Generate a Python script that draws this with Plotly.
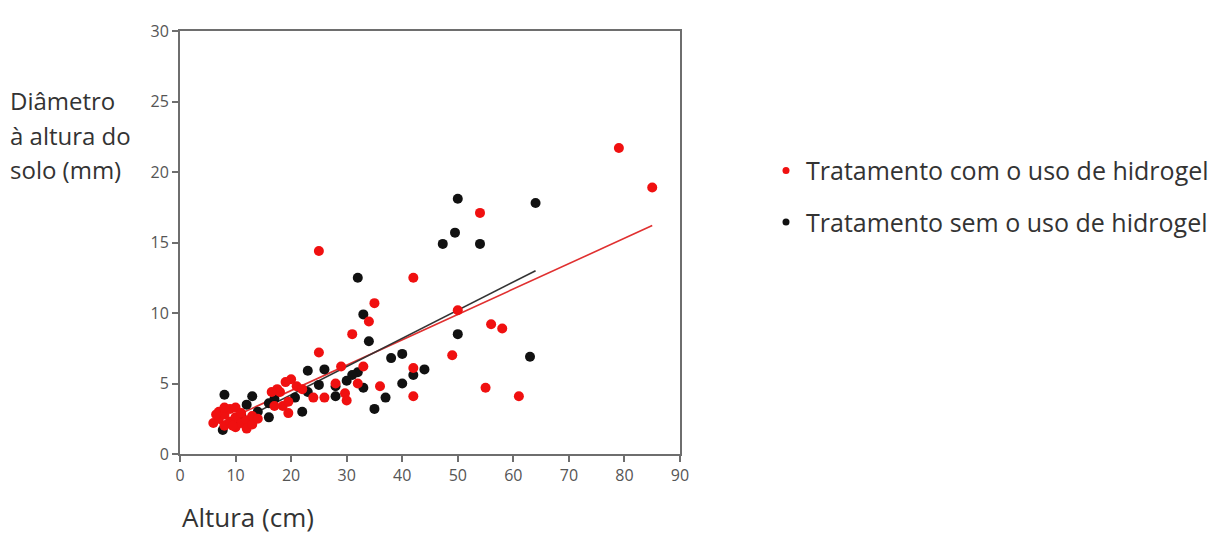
import plotly.graph_objects as go

# Tratamento com o uso de hidrogel (red)
red_x = [79, 85, 54, 25, 42, 35, 50, 56, 58, 31, 34, 25, 49, 55, 61, 42, 42, 36, 33, 29,
         32, 28, 29.7, 30, 26, 24, 20, 17.5, 19, 18, 18.5, 19.5, 17, 16.5, 19.5, 21, 22,
         6, 7, 7, 8, 8, 9, 9, 10, 10, 10, 11, 11, 12, 12, 13, 13, 14, 6.5, 9.5, 8]
red_y = [21.7, 18.9, 17.1, 14.4, 12.5, 10.7, 10.2, 9.2, 8.9, 8.5, 9.4, 7.2, 7.0, 4.7, 4.1, 6.1, 4.1, 4.8, 6.2, 6.2,
         5.0, 5.0, 4.3, 3.8, 4.0, 4.0, 5.3, 4.6, 5.1, 4.4, 3.4, 2.9, 3.4, 4.4, 3.7, 4.8, 4.6,
         2.2, 3.0, 2.5, 2.0, 2.8, 2.3, 3.2, 1.9, 2.6, 3.3, 2.2, 2.9, 2.4, 1.8, 2.1, 2.7, 2.5, 2.8, 2.0, 3.3]

# Tratamento sem o uso de hidrogel (black)
black_x = [50, 64, 49.5, 47.3, 54, 32, 33, 34, 50, 63, 38, 40, 44, 42, 40, 35, 37, 32, 30, 33,
           23, 26, 25, 28, 22, 23, 20.7, 8, 13, 12, 16, 16, 7.7, 10, 11, 14, 17, 28, 31]
black_y = [18.1, 17.8, 15.7, 14.9, 14.9, 12.5, 9.9, 8.0, 8.5, 6.9, 6.8, 7.1, 6.0, 5.6, 5.0, 3.2, 4.0, 5.8, 5.2, 4.7,
           5.9, 6.0, 4.9, 4.1, 3.0, 4.4, 4.0, 4.2, 4.1, 3.5, 2.6, 3.6, 1.7, 2.0, 2.8, 3.0, 3.9, 4.8, 5.6]

# Fitted lines: intercept, slope, x-range
red_fit = {"a": 0.9, "b": 0.18, "xmin": 7, "xmax": 85}
black_fit = {"a": 0.2, "b": 0.2, "xmin": 8, "xmax": 64}

x_ticks = [0, 10, 20, 30, 40, 50, 60, 70, 80, 90]
y_ticks = [0, 5, 10, 15, 20, 25, 30]

RED = "#F01010"
BLACK = "#111111"
FONT = "Open Sans"
TXT = "#333333"

fig = go.Figure()

for fit, col in [(red_fit, "#E03030"), (black_fit, "#333333")]:
    xs = [fit["xmin"], fit["xmax"]]
    fig.add_trace(go.Scatter(x=xs, y=[fit["a"] + fit["b"] * v for v in xs], mode="lines",
                             line=dict(color=col, width=1.6), showlegend=False, hoverinfo="skip"))

fig.add_trace(go.Scatter(x=black_x, y=black_y, mode="markers",
                         marker=dict(color=BLACK, size=10), showlegend=False))
fig.add_trace(go.Scatter(x=red_x, y=red_y, mode="markers",
                         marker=dict(color=RED, size=10), showlegend=False))

# legend entries
fig.add_trace(go.Scatter(x=[None], y=[None], mode="markers", name="Tratamento com o uso de hidrogel",
                         marker=dict(color=RED, size=7), legendgroup="a"))
fig.add_trace(go.Scatter(x=[None], y=[None], mode="markers", name="Tratamento sem o uso de hidrogel",
                         marker=dict(color=BLACK, size=7), legendgroup="b"))

axis_common = dict(showline=True, linecolor="#6e6e6e", linewidth=2, mirror=True,
                   ticks="outside", ticklen=6, tickwidth=1.5, tickcolor="#6e6e6e",
                   showgrid=False, zeroline=False,
                   tickfont=dict(family=FONT, size=16, color="#555555"))

fig.update_xaxes(range=[0, 90], tickvals=x_ticks, **axis_common)
fig.update_yaxes(range=[0, 30], tickvals=y_ticks, **axis_common)


def ann(text, x, ypix, size):
    return dict(text=text, x=x, y=(454 - ypix) / 433, xref="paper", yref="paper",
                xanchor="left", yanchor="middle", showarrow=False,
                font=dict(family=FONT, size=size, color=TXT))


fig.update_layout(
    width=1227, height=555,
    margin=dict(l=172, r=555, t=13, b=109),
    plot_bgcolor="white", paper_bgcolor="white",
    font=dict(family=FONT, color=TXT),
    legend=dict(x=1.172, y=0.724, xanchor="left", yanchor="top",
                font=dict(family=FONT, size=25, color=TXT),
                tracegroupgap=16, bgcolor="rgba(0,0,0,0)"),
    annotations=[
        ann("Diâmetro", -0.345, 92, 24),
        ann("à altura do", -0.345, 128, 24),
        ann("solo (mm)", -0.345, 163, 24),
        ann("Altura (cm)", 0.0, 518, 26),
    ],
)

fig.write_html("out.html")
